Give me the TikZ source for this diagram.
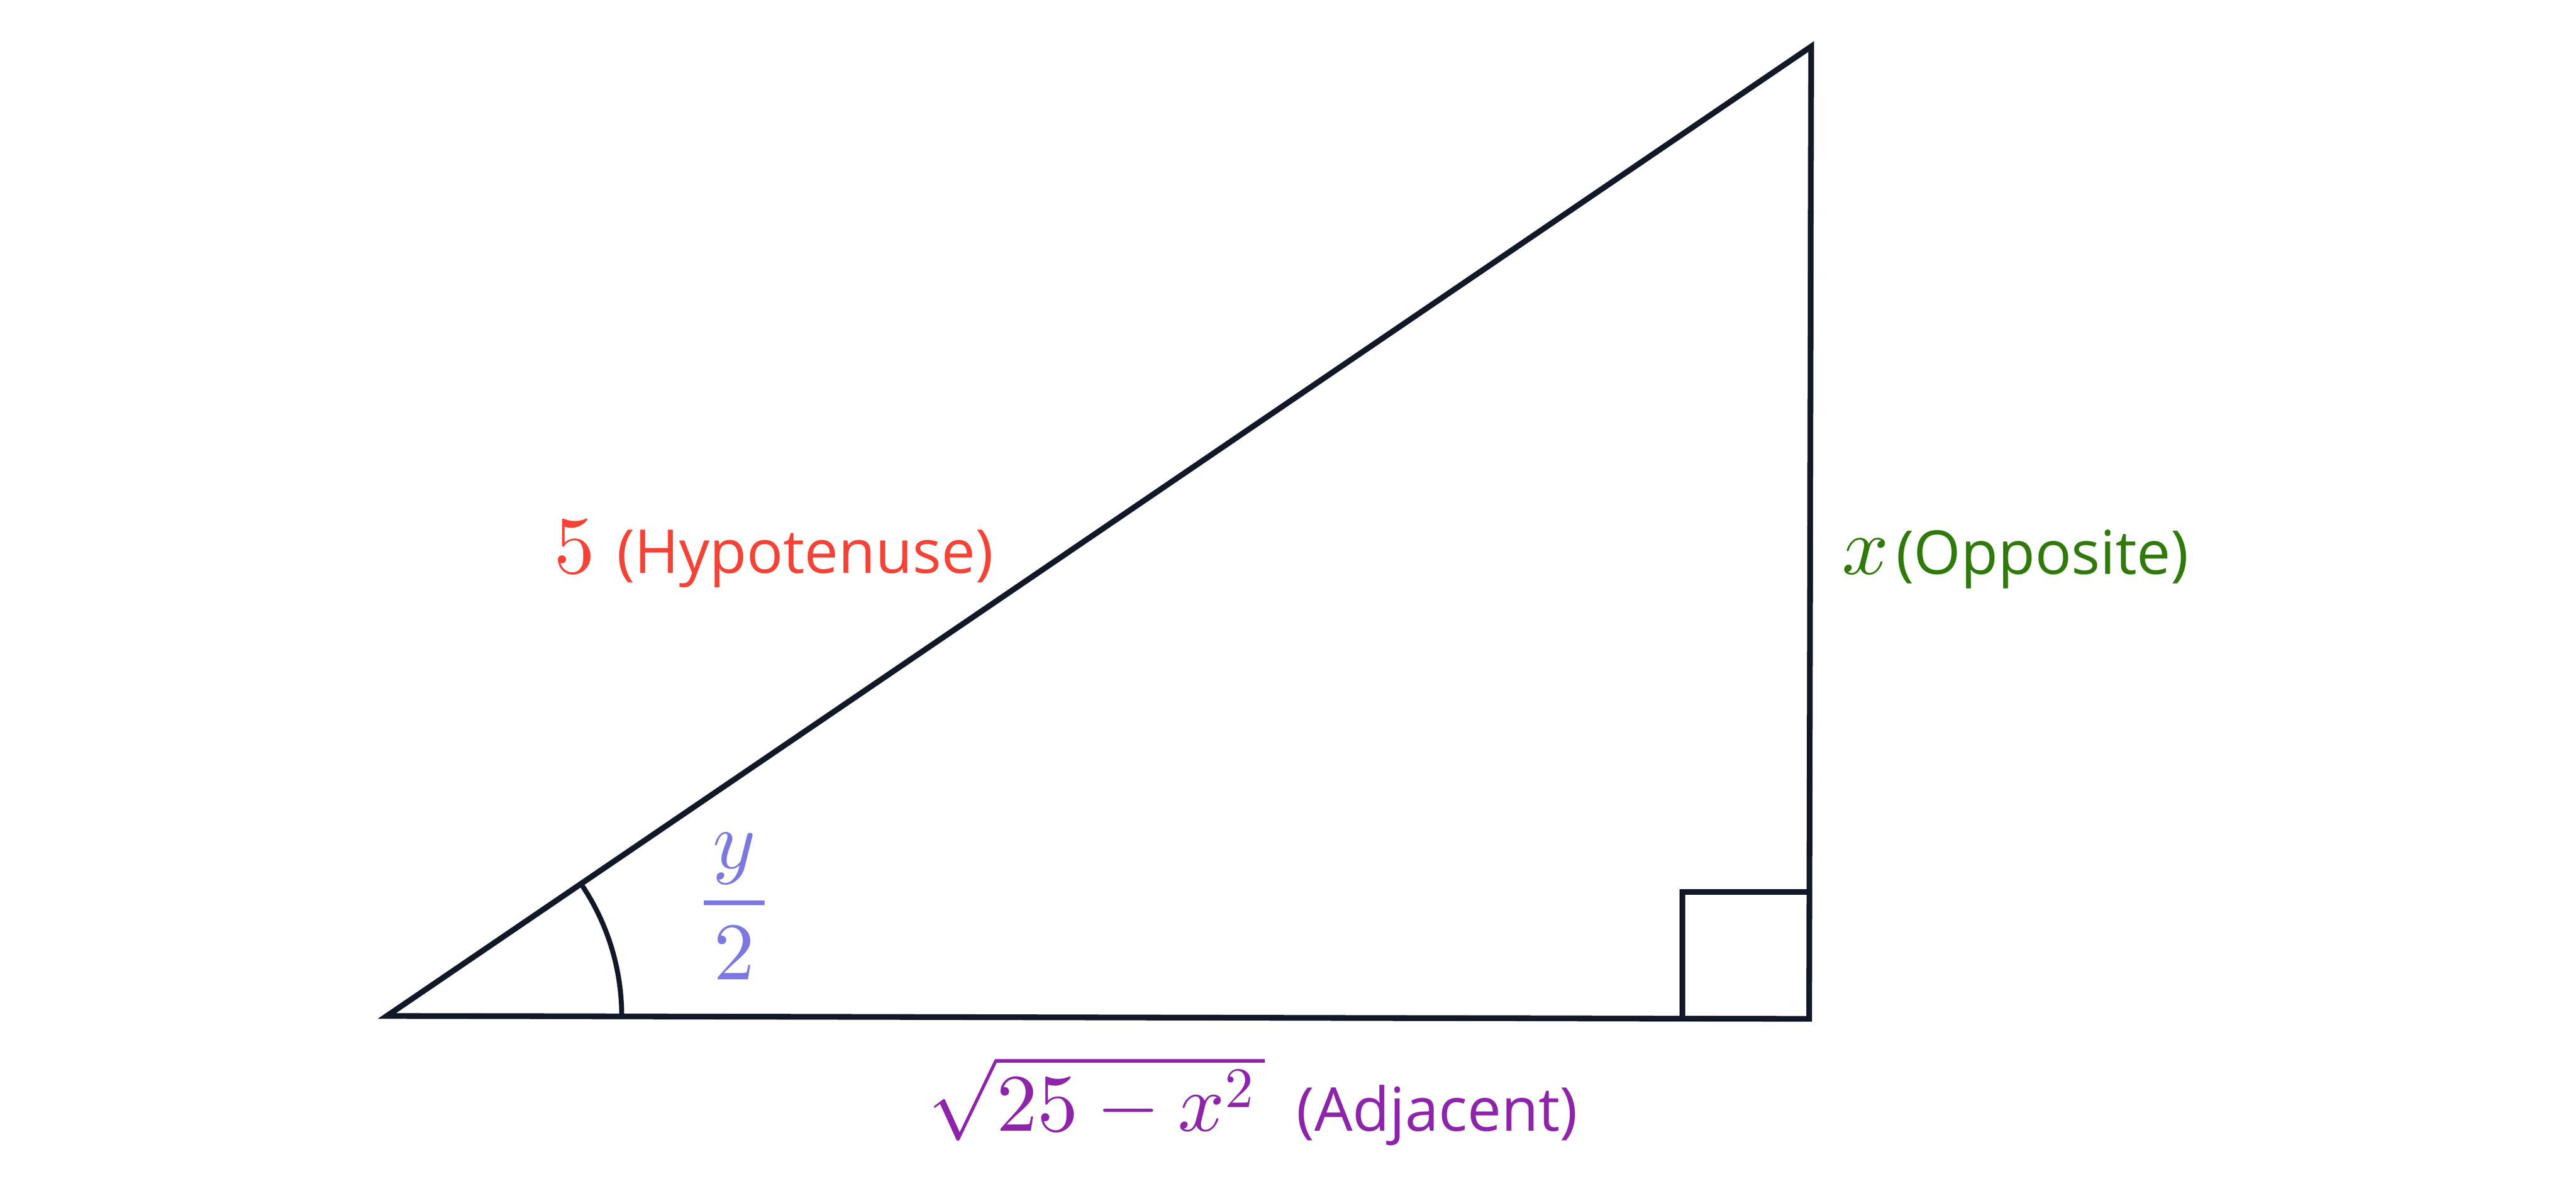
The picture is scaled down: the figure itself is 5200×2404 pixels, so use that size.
\RequirePackage{fix-cm}
\documentclass[tikz,border=0pt]{standalone}
\usepackage{amsmath}
\usepackage[no-math]{fontspec}
\setmainfont{Open Sans}
\DeclareFontShape{OT1}{cmr}{m}{n}{<->cmr10}{}
\DeclareFontShape{OML}{cmm}{m}{it}{<->cmmi10}{}
\DeclareFontShape{OMS}{cmsy}{m}{n}{<->cmsy10}{}
\definecolor{ink}{HTML}{111827}
\definecolor{hypc}{HTML}{F44336}
\definecolor{oppc}{HTML}{2F7A0A}
\definecolor{adjc}{HTML}{8E24AA}
\definecolor{angc}{HTML}{7B79E0}
\newcommand\mathsz{\fontsize{16.5pt}{19.8pt}\selectfont}
\newcommand\textsz{\fontsize{12.2pt}{14.6pt}\selectfont}
\begin{document}
\begin{tikzpicture}[x=0.1pt,y=0.1pt,
  edge/.style={draw=ink,line width=1.15pt,line join=miter},
  anglearc/.style={draw=ink,line width=1pt},
  lbl/.style={inner sep=0pt,font=\textsz}]
\useasboundingbox (0,0) rectangle (5200,2404);
\coordinate (A) at (781,353);
\coordinate (B) at (3652,347);
\coordinate (C) at (3656,2310);
\draw[edge] (A) -- (B) -- (C) -- cycle;
\coordinate (sqA) at (3396,347.5);
\coordinate (sqB) at (3652.5,603);
\draw[edge] (sqA) |- (sqB);
\draw[anglearc] ([shift={(-0.12:474)}]A) arc[start angle=-0.12,end angle=34.24,radius=474];
\node[lbl,text=hypc,anchor=base west] (hyp) at (1117,1247) {{\mathsz$5$}\kern4.35pt(Hypotenuse)};
\node[lbl,text=oppc,anchor=base west] (opp) at (3716,1245) {{\mathsz$x$}\kern1.5pt(Opposite)};
\node[lbl,text=adjc,anchor=base west] (adj) at (1872,121) {{\mathsz$\sqrt{25-x^2\mkern2mu}$}\kern6.4pt(Adjacent)};
\node[lbl,text=angc,anchor=base] (ang) at (1482,540) {\mathsz$\genfrac{}{}{1pt}{0}{\mkern2mu y\mkern2mu}{2}$};
\end{tikzpicture}
\end{document}
